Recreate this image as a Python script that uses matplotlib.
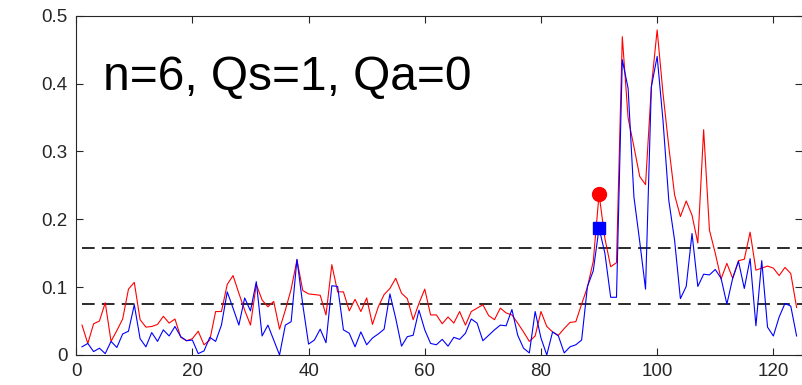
import numpy as np
import matplotlib.pyplot as plt
from matplotlib.ticker import FuncFormatter

plt.rcParams['font.family'] = ['Liberation Sans', 'DejaVu Sans']

# spectrum values for the two estimators, sample index 1..124
red = [0.044, 0.017, 0.046, 0.050, 0.077, 0.020, 0.036, 0.053, 0.097, 0.107,
       0.052, 0.041, 0.042, 0.045, 0.057, 0.047, 0.053, 0.026, 0.021, 0.024,
       0.035, 0.015, 0.022, 0.064, 0.064, 0.104, 0.117, 0.091, 0.066, 0.044,
       0.104, 0.081, 0.071, 0.079, 0.038, 0.066, 0.097, 0.140, 0.095, 0.090,
       0.089, 0.088, 0.059, 0.133, 0.093, 0.093, 0.065, 0.082, 0.064, 0.084,
       0.045, 0.071, 0.089, 0.098, 0.113, 0.091, 0.083, 0.052, 0.076, 0.097,
       0.059, 0.059, 0.046, 0.056, 0.047, 0.064, 0.044, 0.064, 0.069, 0.074,
       0.058, 0.052, 0.069, 0.062, 0.059, 0.047, 0.034, 0.020, 0.028, 0.064,
       0.042, 0.034, 0.029, 0.039, 0.048, 0.049, 0.075, 0.100, 0.138, 0.237,
       0.172, 0.130, 0.136, 0.469, 0.349, 0.307, 0.263, 0.251, 0.395, 0.479,
       0.386, 0.307, 0.236, 0.204, 0.227, 0.206, 0.165, 0.332, 0.184, 0.150,
       0.112, 0.135, 0.113, 0.139, 0.141, 0.181, 0.125, 0.128, 0.131, 0.128,
       0.117, 0.129, 0.120, 0.070]

blue = [0.012, 0.017, 0.005, 0.010, 0.002, 0.020, 0.011, 0.031, 0.035, 0.074,
        0.024, 0.012, 0.033, 0.020, 0.037, 0.028, 0.042, 0.027, 0.021, 0.022,
        0.002, 0.006, 0.026, 0.020, 0.044, 0.093, 0.069, 0.044, 0.084, 0.065,
        0.108, 0.028, 0.044, 0.022, 0.000, 0.044, 0.049, 0.141, 0.074, 0.016,
        0.022, 0.038, 0.018, 0.102, 0.101, 0.037, 0.032, 0.012, 0.034, 0.015,
        0.025, 0.031, 0.038, 0.090, 0.054, 0.013, 0.027, 0.029, 0.066, 0.037,
        0.017, 0.015, 0.023, 0.013, 0.026, 0.023, 0.032, 0.053, 0.047, 0.021,
        0.029, 0.037, 0.044, 0.043, 0.067, 0.029, 0.010, 0.003, 0.064, 0.025,
        0.000, 0.034, 0.028, 0.003, 0.012, 0.015, 0.022, 0.101, 0.124, 0.187,
        0.150, 0.085, 0.085, 0.435, 0.393, 0.233, 0.167, 0.097, 0.395, 0.440,
        0.346, 0.228, 0.169, 0.083, 0.101, 0.179, 0.101, 0.119, 0.118, 0.126,
        0.113, 0.075, 0.113, 0.138, 0.098, 0.142, 0.043, 0.139, 0.041, 0.028,
        0.056, 0.076, 0.072, 0.028]

x = np.arange(1, len(red) + 1)
thresholds = [0.157, 0.075]
k = 90  # marked sample
label = 'n=6, Qs=1, Qa=0'

fig = plt.figure(figsize=(8.02, 3.85), dpi=100)
ax = fig.add_axes([0.095, 0.078, 0.9055, 0.8813])

for th in thresholds:
    ax.plot([1, 125], [th, th], color='#1a1a1a', lw=1.3, dashes=(7, 4))

ax.plot(x, red, color='#ff0000', lw=0.8)
ax.plot(x, blue, color='#0000ff', lw=0.8)
ax.plot(k, red[k - 1], 'o', color='#ff0000', ms=10)
ax.plot(k, blue[k - 1], 's', color='#0000ff', ms=9)

ax.text(4.6, 0.391, label, fontsize=34.5, color='black', va='baseline')

ax.set_xlim(0, 125)
ax.set_ylim(0, 0.5)
ax.set_xticks(np.arange(0, 121, 20))
ax.set_yticks(np.arange(0, 0.51, 0.1))
ax.yaxis.set_major_formatter(FuncFormatter(lambda v, p: '%g' % round(v, 2)))
ax.tick_params(direction='in', top=True, right=True, length=5, width=0.8,
               color='#262626', labelcolor='#262626', labelsize=13.5, pad=6)
for s in ax.spines.values():
    s.set_color('#262626')
    s.set_linewidth(0.8)

fig.savefig('out.png', dpi=100)
